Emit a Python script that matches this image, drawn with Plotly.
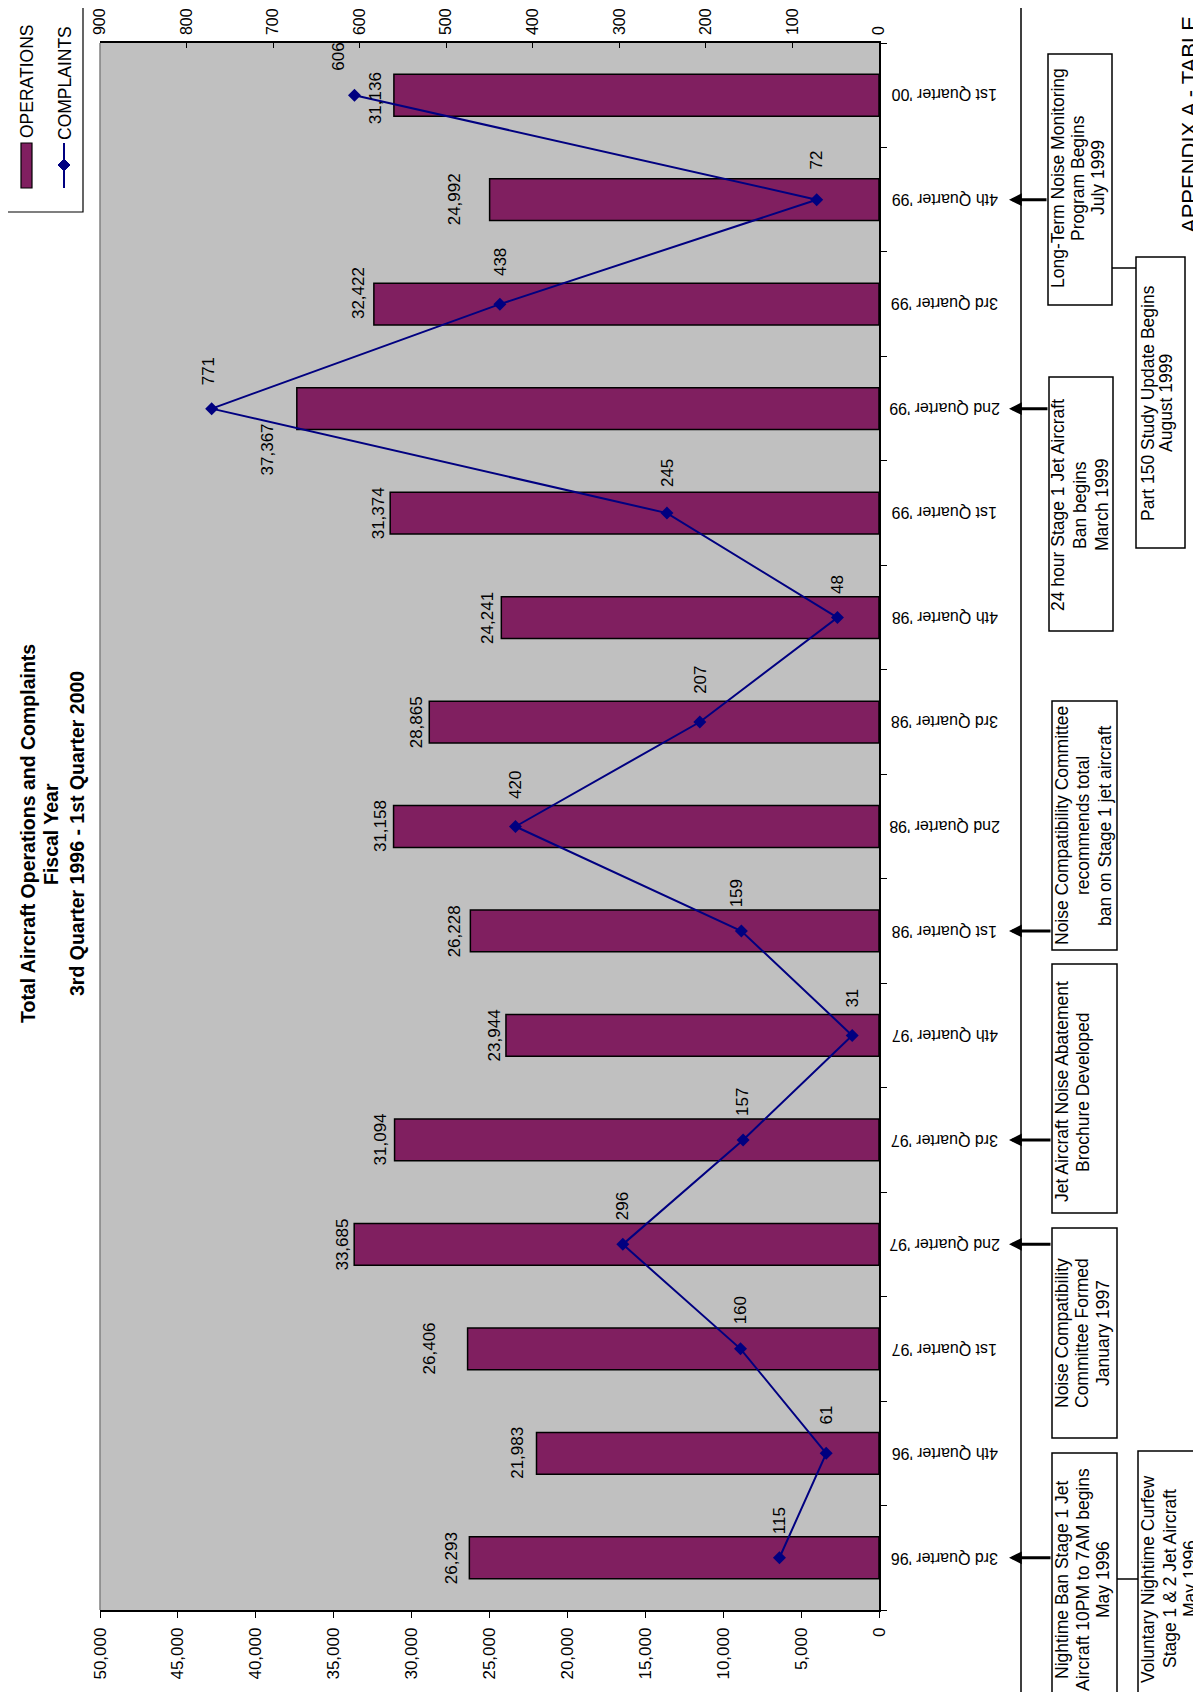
import plotly.graph_objects as go

# ---------------- data ----------------
categories = ["3rd Quarter '96", "4th Quarter '96", "1st Quarter '97", "2nd Quarter '97",
              "3rd Quarter '97", "4th Quarter '97", "1st Quarter '98", "2nd Quarter '98",
              "3rd Quarter '98", "4th Quarter '98", "1st Quarter '99", "2nd Quarter '99",
              "3rd Quarter '99", "4th Quarter '99", "1st Quarter '00"]
operations = [26293, 21983, 26406, 33685, 31094, 23944, 26228, 31158,
              28865, 24241, 31374, 37367, 32422, 24992, 31136]
complaints = [115, 61, 160, 296, 157, 31, 159, 420, 207, 48, 245, 771, 438, 72, 606]
ops_ticks = list(range(0, 50001, 5000))
cmp_ticks = list(range(0, 901, 100))
title_lines = ["Total Aircraft Operations and Complaints", "Fiscal Year",
               "3rd Quarter 1996 - 1st Quarter 2000"]
series_names = ["OPERATIONS", "COMPLAINTS"]
event_lines = [
    ["Nightime Ban Stage 1 Jet", "Aircraft 10PM to 7AM begins", "May 1996"],
    ["Voluntary Nightime Curfew", "Stage 1 & 2 Jet Aircraft", "May 1996"],
    ["Noise Compatibility", "Committee Formed", "January 1997"],
    ["Jet Aircraft Noise Abatement", "Brochure Developed"],
    ["Noise Compatibility Committee", "recommends total", "ban on Stage 1 jet aircraft"],
    ["24 hour Stage 1 Jet Aircraft", "Ban begins", "March 1999"],
    ["Long-Term Noise Monitoring", "Program Begins", "July 1999"],
    ["Part 150 Study Update Begins", "August 1999"],
]
event_categories = ["3rd Quarter '96", None, "2nd Quarter '97", "3rd Quarter '97",
                    "1st Quarter '98", "2nd Quarter '99", "4th Quarter '99", None]
page_label = "APPENDIX A - TABLE 1"

# ---------------- styling / layout helpers ----------------
OFF = 8                      # the browser body margin puts the figure at (8, 8)
W, H = 1201 - OFF, 1700 - 2 * OFF
# plot area in screen pixels: x 100..879, y 43..1610
L, T = 100 - OFF, 43 - OFF
PW, PH = 779, 1567
R = W - L - PW
B = H - T - PH
FONT = "Arial, Liberation Sans, sans-serif"
BAR_COLOR = "#801F60"
LINE_COLOR = "#000080"
PLOT_BG = "#C0C0C0"


def xp(px):
    """screen pixel x -> paper x"""
    return (px - OFF - L) / PW


def yp(py):
    """screen pixel y -> paper y"""
    return (T + PH - (py - OFF)) / PH


# label nudges (pixels): distance left of bar end, vertical shift (up positive)
ops_label_nudge = [(18, 0), (19, 0), (38, 0), (12, 0), (14, 0), (12, 0), (15, 0), (13, 0),
                   (13, 0), (14, 0), (12, 0), (29, -41), (16, 11), (35, 0), (19, -3)]
cmp_label_nudge = [(0, 37), (0, 38), (0, 38), (0, 38), (0, 38), (0, 37), (-4, 38), (0, 42),
                   (0, 42), (0, 33), (0, 40), (-3, 37), (0, 42), (0, 40), (-16, 39)]

# event boxes geometry in screen pixels: x0, x1, y0, y1, text line x centres, text cy
event_boxes = [
    (1052, 1117, 1453, 1715, [1062, 1083, 1103], 1580),
    (1138, 1215, 1451, 1715, [1148, 1170, 1190], 1579),
    (1052, 1117, 1228, 1438, [1062, 1082, 1103], 1333),
    (1052, 1117, 964, 1213, [1062, 1083], 1092),
    (1052, 1117, 701, 950, [1062, 1083, 1105], 826),
    (1049, 1113, 377, 631, [1058, 1080, 1102], 505),
    (1048, 1112, 54, 305, [1058, 1078, 1098], 178),
    (1136, 1185, 257, 548, [1148, 1166], 403),
]

fig = go.Figure()

fig.add_trace(go.Bar(
    y=categories, x=operations, orientation="h", name=series_names[0],
    marker=dict(color=BAR_COLOR, line=dict(color="black", width=1.5)),
    xaxis="x", yaxis="y", showlegend=False,
))
fig.add_trace(go.Scatter(
    y=categories, x=complaints, mode="lines+markers", name=series_names[1],
    line=dict(color=LINE_COLOR, width=2),
    marker=dict(symbol="diamond", size=10, color=LINE_COLOR),
    xaxis="x2", yaxis="y", showlegend=False,
))

annotations = []
shapes = []


def ptext(x, y, text, size=17, angle=-90, **kw):
    d = dict(x=x, y=y, xref="paper", yref="paper", text=text, showarrow=False,
             textangle=angle, xanchor="center", yanchor="middle",
             font=dict(family=FONT, size=size, color="black"))
    d.update(kw)
    return d


# data labels
for c, v, (dx, dy) in zip(categories, operations, ops_label_nudge):
    annotations.append(dict(x=v, y=c, xref="x", yref="y", text=f"{v:,}", showarrow=False,
                            textangle=-90, xshift=-dx, yshift=dy,
                            xanchor="center", yanchor="middle",
                            font=dict(family=FONT, size=17, color="black")))
for c, v, (dx, dy) in zip(categories, complaints, cmp_label_nudge):
    annotations.append(dict(x=v, y=c, xref="x2", yref="y", text=str(v), showarrow=False,
                            textangle=-90, xshift=dx, yshift=dy,
                            xanchor="center", yanchor="middle",
                            font=dict(family=FONT, size=17, color="black")))

# category labels (upside down, as in the reference)
for c in categories:
    annotations.append(dict(x=xp(945), y=c, xref="paper", yref="y", text=c, showarrow=False,
                            textangle=180, xanchor="center", yanchor="middle",
                            font=dict(family=FONT, size=16, color="black")))

# title, one annotation per line
for line, lx in zip(title_lines, [28, 51, 77]):
    annotations.append(ptext(xp(lx), yp(834), "<b>" + line + "</b>", size=19.5))

# appendix label (runs off the page, as in the reference)
annotations.append(ptext(xp(1189), yp(116), page_label, size=22))

# chart-area border and plot-area left edge
shapes.append(dict(type="rect", xref="paper", yref="paper", x0=xp(3), x1=xp(1021),
                   y0=yp(-10), y1=yp(1712), line=dict(color="black", width=1.5)))
shapes.append(dict(type="line", xref="paper", yref="paper", x0=xp(100), x1=xp(100),
                   y0=yp(43), y1=yp(1610), line=dict(color="#808080", width=1.5)))

# legend
shapes.append(dict(type="rect", xref="paper", yref="paper", x0=xp(7), x1=xp(83),
                   y0=yp(-5), y1=yp(212), line=dict(color="black", width=1.2),
                   fillcolor="white"))
shapes.append(dict(type="rect", xref="paper", yref="paper", x0=xp(21), x1=xp(32),
                   y0=yp(143), y1=yp(188), line=dict(color="black", width=1.2),
                   fillcolor=BAR_COLOR))
shapes.append(dict(type="line", xref="paper", yref="paper", x0=xp(64), x1=xp(64),
                   y0=yp(143), y1=yp(188), line=dict(color=LINE_COLOR, width=2)))
shapes.append(dict(type="path", xref="paper", yref="paper",
                   path=f"M{xp(58)},{yp(165)} L{xp(64)},{yp(159)} L{xp(70)},{yp(165)} "
                        f"L{xp(64)},{yp(171)} Z",
                   fillcolor=LINE_COLOR, line=dict(color=LINE_COLOR, width=1)))
annotations.append(ptext(xp(27), yp(82), series_names[0], size=17.5))
annotations.append(ptext(xp(65), yp(83), series_names[1], size=17.5))

# event boxes, texts and arrows
for lines, cat, (x0, x1, y0, y1, lxs, cy) in zip(event_lines, event_categories, event_boxes):
    shapes.append(dict(type="rect", xref="paper", yref="paper", x0=xp(x0), x1=xp(x1),
                       y0=yp(y0), y1=yp(y1), line=dict(color="black", width=1.5),
                       fillcolor="white"))
    for line, lx in zip(lines, lxs):
        annotations.append(ptext(xp(lx), yp(cy), line, size=17.5))
    if cat is not None:
        annotations.append(dict(x=xp(1009), y=cat, xref="paper", yref="y", text="",
                                showarrow=True, ax=x0 - 1009, ay=0, arrowhead=2,
                                arrowwidth=3, arrowsize=0.85, arrowcolor="black",
                                standoff=0, startstandoff=0))

# connectors between paired boxes
shapes.append(dict(type="line", xref="paper", yref="paper", x0=xp(1117), x1=xp(1138),
                   y0=yp(1579), y1=yp(1579), line=dict(color="black", width=1.5)))
shapes.append(dict(type="line", xref="paper", yref="paper", x0=xp(1112), x1=xp(1136),
                   y0=yp(268), y1=yp(268), line=dict(color="black", width=1.5)))

fig.update_layout(
    width=W, height=H,
    margin=dict(l=L, r=R, t=T, b=B, pad=0, autoexpand=False),
    paper_bgcolor="white", plot_bgcolor=PLOT_BG,
    font=dict(family=FONT, size=17, color="black"),
    bargap=0.6,
    showlegend=False,
    xaxis=dict(range=[50000, 0], tickvals=ops_ticks, tickformat=",", tickangle=-90,
               side="bottom", ticks="outside", ticklen=6, tickcolor="black", tickwidth=1.2,
               showline=True, linecolor="black", linewidth=1.5, showgrid=False,
               zeroline=False, ticklabelstandoff=3, automargin=False,
               tickfont=dict(family=FONT, size=17, color="black")),
    xaxis2=dict(range=[900, 0], tickvals=cmp_ticks, tickangle=-90, overlaying="x",
                side="top", ticks="inside", ticklen=5, tickcolor="black", tickwidth=1.2,
                showline=True, linecolor="black", linewidth=1.5, showgrid=False,
                zeroline=False, ticklabelstandoff=3, automargin=False,
                tickfont=dict(family=FONT, size=16, color="black")),
    yaxis=dict(type="category", categoryorder="array", categoryarray=categories,
               range=[-0.5, len(categories) - 0.5], side="right", showticklabels=False,
               ticks="outside", tickson="boundaries", ticklen=6, tickcolor="black",
               tickwidth=1.2, showline=True, linecolor="black", linewidth=1.5,
               showgrid=False, zeroline=False, automargin=False),
    shapes=shapes,
    annotations=annotations,
)

fig.write_html("out.html")
